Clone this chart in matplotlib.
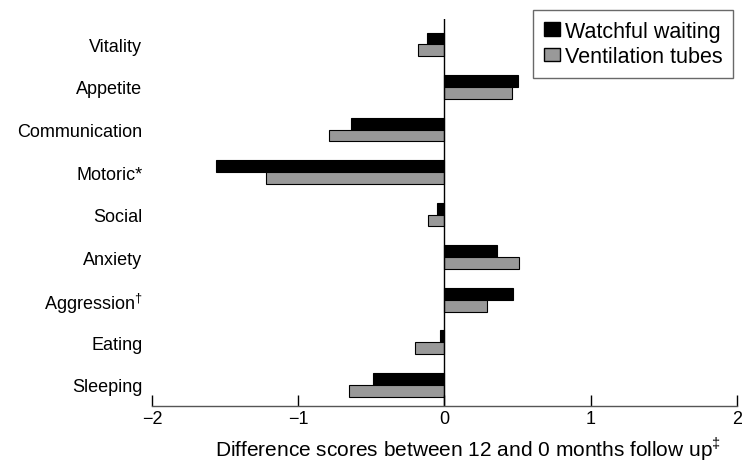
import matplotlib
matplotlib.use("Agg")
import matplotlib.pyplot as plt
import numpy as np
from matplotlib.patches import Patch

plt.rcParams['font.family'] = ['Liberation Sans', 'DejaVu Sans']
plt.rcParams['mathtext.fontset'] = 'custom'
plt.rcParams['mathtext.rm'] = 'Liberation Sans'

categories = ["Vitality", "Appetite", "Communication", "Motoric*", "Social",
              "Anxiety", r"Aggression$^{\dag}$", "Eating", "Sleeping"]
watchful_waiting = [-0.12, 0.50, -0.64, -1.56, -0.05, 0.36, 0.47, -0.03, -0.49]
ventilation_tubes = [-0.18, 0.46, -0.79, -1.22, -0.11, 0.51, 0.29, -0.20, -0.65]
xticks = [-2, -1, 0, 1, 2]
xticklabels = ["\u22122", "\u22121", "0", "1", "2"]

fig = plt.figure(figsize=(7.42, 4.64), dpi=100)
ax = fig.add_axes([0.205, 0.123, 0.788, 0.834])

y = np.arange(len(categories))
h = 0.28
ax.barh(y - h/2, watchful_waiting, height=h, color='black', edgecolor='black', linewidth=0.8)
ax.barh(y + h/2, ventilation_tubes, height=h, color='#999999', edgecolor='black', linewidth=0.8)

ax.set_xlim(-2, 2)
ax.set_ylim(len(categories) - 0.5, -0.6)
ax.axvline(0, color='black', linewidth=1.0)

for s in ['top', 'right', 'left']:
    ax.spines[s].set_visible(False)
ax.spines['bottom'].set_linewidth(1.0)
ax.spines['bottom'].set_color('#555555')

ax.set_yticks(y)
ax.set_yticklabels(categories, fontsize=13)
ax.tick_params(axis='y', length=0, pad=7)

ax.set_xticks(xticks)
ax.set_xticklabels(xticklabels, fontsize=13)
ax.tick_params(axis='x', direction='in', length=8, width=1.0, pad=3)

ax.set_xlabel(r"Difference scores between 12 and 0 months follow up$^{\ddag}$", fontsize=15)
ax.xaxis.set_label_coords(0.54, -0.072)

handles = [Patch(facecolor='black', edgecolor='black', label='Watchful waiting'),
           Patch(facecolor='#999999', edgecolor='black', label='Ventilation tubes')]
leg = fig.legend(handles=handles, loc='upper right', bbox_to_anchor=(0.988, 0.976),
                 fontsize=15.5, frameon=True, fancybox=False, handlelength=0.75,
                 handleheight=0.6, handletextpad=0.2, borderpad=0.5, labelspacing=0.2,
                 borderaxespad=0)
leg.get_frame().set_edgecolor('#444444')
leg.get_frame().set_linewidth(1.0)

fig.savefig("out.png", dpi=100)
